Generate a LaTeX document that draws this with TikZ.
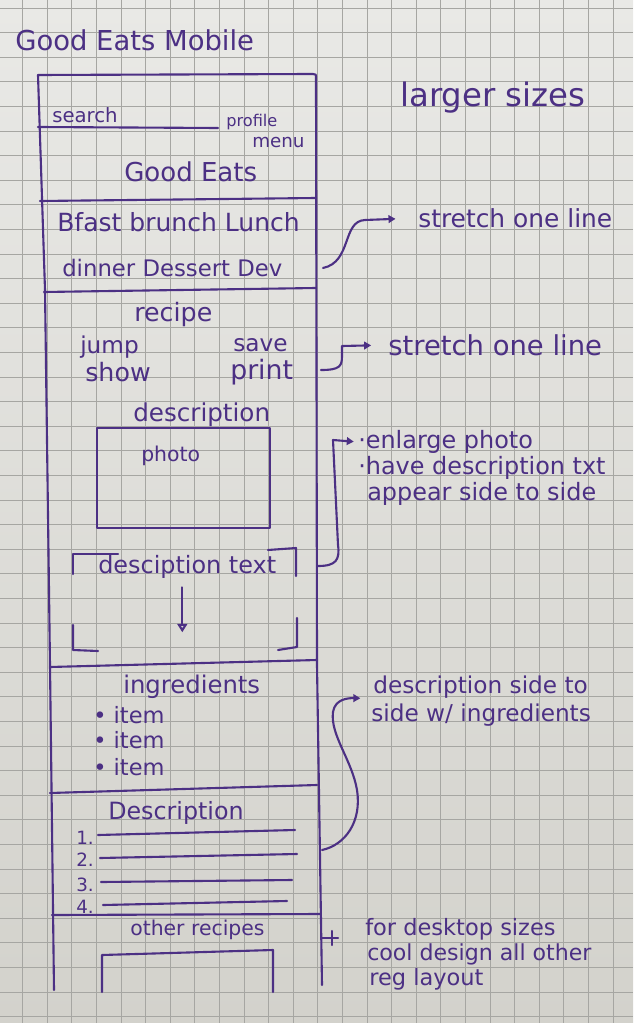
\documentclass[tikz,border=0pt]{standalone}
\usepackage{fontspec}
\setmainfont{DejaVu Sans}
\usepackage{xcolor}
\usetikzlibrary{positioning,calc,arrows.meta}

\definecolor{ink}{RGB}{76,48,132}
\definecolor{paperlight}{RGB}{233,233,230}
\definecolor{paperdark}{RGB}{211,210,204}
\definecolor{gridgray}{RGB}{166,166,162}

\tikzset{
    pen/.style={draw=ink, line width=1.5pt, line cap=round, line join=round},
    hand/.style={text=ink, inner sep=0pt, anchor=west, font=\fontsize{#1}{#1}\selectfont},
    arrowto/.style={pen, -{Triangle[length=5pt,width=5.5pt]}, shorten >=#1},
    gridline/.style={draw=gridgray, line width=0.6pt}
}

\begin{document}
\begin{tikzpicture}[x=0.025cm, y=-0.025cm]
    \useasboundingbox (0,0) rectangle (633,1023);

    % Paper
    \shade[top color=paperlight, bottom color=paperdark] (0,0) rectangle (633,1023);
    \foreach \i in {0,...,24}
        \draw[gridline] ({22.7+24.6*\i},0) -- ++(0,1023);
    \foreach \j in {0,...,41}
        \draw[gridline] (0,{8.1+24.6*\j}) -- ++(633,0);

    \node[hand=19.5] (title) at (15,40) {Good Eats Mobile};

    % Phone frame
    \draw[pen] (54,990) -- (50,665) -- (45,290) -- (38,75) -- (313,74)
        .. controls (316,74) .. (316,79) -- (317,665) -- (322,985);
    \foreach \xa/\ya/\xb/\yb in {40/201/316/198, 44/292/316/288, 50/667/317/660,
                                 50/793/317/785, 52/915/320/914}
        \draw[pen] (\xa,\ya) -- (\xb,\yb);

    % Header
    \node[hand=14] (search) at (52,115) {search};
    \draw[pen] (38,127) -- (218,128);
    \node[hand=11.5] (profile) at (226,122) {profile};
    \node[hand=13] (menu) at (252,143) {menu};
    \node[hand=18.5] (brand) at (124,172) {Good Eats};

    % Meal tabs
    \node[hand=17.8] (meals) at (57,222) {Bfast brunch Lunch};
    \node[hand=16.2] (meals2) at (62,268) {dinner Dessert Dev};

    % Recipe
    \node[hand=18] (recipe) at (134,315) {recipe};
    \node[hand=16.5] (jump) at (80,347) {jump};
    \node[hand=18] (show) at (85,372) {show};
    \node[hand=16.5] (save) at (233,345) {save};
    \node[hand=19] (print) at (230,372) {print};
    \node[hand=17.5] (desc) at (133,415) {description};
    \draw[pen] (97,428) rectangle (270,528);
    \node[hand=14.5] (photo) at (141,456) {photo};

    \node[hand=17] (desctext) at (98,567) {desciption text};
    \draw[pen] (73,574) -- (73,554) -- (118,554);
    \draw[pen] (268,550) -- (296,548) -- (296,576);
    \draw[pen] (73,625) -- (73,650) -- (98,651);
    \draw[pen] (297,618) -- (297,647) -- (278,650);
    \draw[pen, -{Triangle[open,length=6pt,width=7pt]}]
        ([xshift=-3.5pt,yshift=-6pt]desctext.south) -- ++(0,45);

    % Ingredients
    \node[hand=17.3] (ingr) at (123,687) {ingredients};
    \foreach \y [count=\i] in {715,740,767}
        \node[hand=16] (item\i) at (93,\y) {• item};

    % Steps
    \node[hand=16.9] (steps) at (108,813) {Description};
    \foreach \y/\n in {838/1, 860/2, 885/3, 907/4}
        \node[hand=13] (num\n) at (76,\y) {\n.};
    \foreach \xa/\ya/\xb/\yb in {98/835/295/830, 100/858/297/854,
                                 101/882/292/880, 103/905/287/901}
        \draw[pen] (\xa,\ya) -- (\xb,\yb);

    % Other recipes
    \node[hand=14.5] (others) at (130,930) {other recipes};
    \draw[pen] (102,992) -- (102,955) -- (273,950) -- (273,992);

    % Notes
    \node[hand=23] (larger) at (400,98) {larger sizes};
    \node[hand=17.7] (stretch1) at (418,218) {stretch one line};
    \node[hand=19.5] (stretch2) at (388,345) {stretch one line};
    \node[hand=17] (enlarge1) at (358,442) {·enlarge photo};
    \node[hand=17] (enlarge2) at (358,468) {·have description txt};
    \node[hand=17] (enlarge3) at (367,494) {appear side to side};
    \node[hand=16.5] (side1) at (373,687) {description side to};
    \node[hand=16.5] (side2) at (371,715) {side w/ ingredients};
    \node[hand=16] (desk1) at (365,929) {for desktop sizes};
    \node[hand=15.7] (desk2) at (367,954) {cool design all other};
    \node[hand=16] (desk3) at (369,979) {reg layout};

    % Connectors
    \coordinate (navR) at (323,268);
    \coordinate (actR) at (321,370);
    \coordinate (photoR) at (318,566);
    \coordinate (stepsR) at (322,850);
    \coordinate (othersR) at (322,938);
    \draw[arrowto=16pt] (navR) .. controls (352,262) and (342,221) .. (365,220) -- (stretch1.west);
    \draw[arrowto=12pt] (actR) .. controls (340,370) and (342,366) .. (342,356)
        -- (342,346) -- (stretch2.west);
    \draw[arrowto=3pt] (photoR) .. controls (336,566) and (340,560) .. (338,545)
        -- (333,440) -- (enlarge1.west);
    \draw[arrowto=9pt] (stepsR) .. controls (345,845) and (362,822) .. (357,790)
        .. controls (352,760) and (330,735) .. (333,712)
        .. controls (335,699) and (348,698) .. (side1.south west);
    \draw[pen] (othersR) -- ++(16,0) (othersR) ++(10,-7) -- ++(0,14);
\end{tikzpicture}
\end{document}
